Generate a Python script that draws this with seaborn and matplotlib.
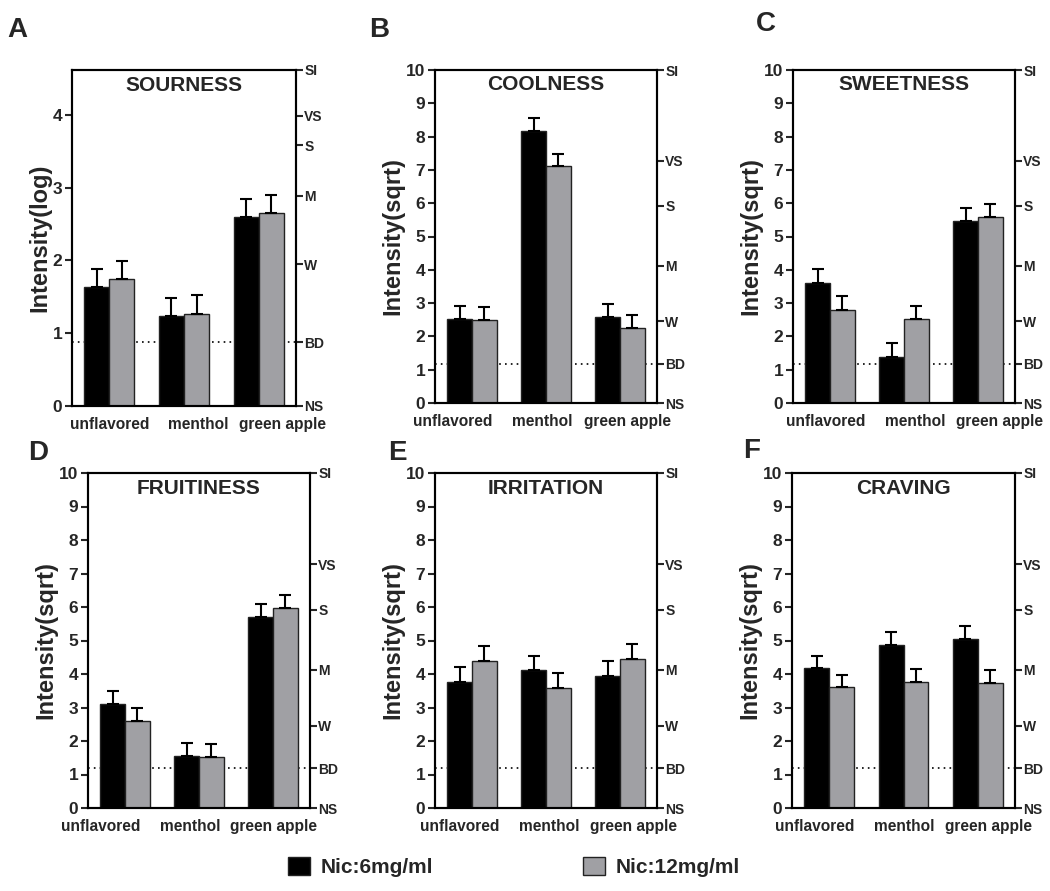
import numpy as np
import pandas as pd
import seaborn as sns
import matplotlib.pyplot as plt
from matplotlib.transforms import ScaledTranslation

# ------------------------------------------------------------
# data: means and upper SEM per flavor
# ------------------------------------------------------------
flavors = ["unflavored", "menthol", "green apple"]
nic_levels = ["Nic:6mg/ml", "Nic:12mg/ml"]

# gLMS anchors used on the right-hand axis
glms_labels = ["NS", "BD", "W", "M", "S", "VS", "SI"]
glms_values = [0, 1.4, 6, 17, 35, 53, 100]

sour_6 = [1.63, 1.24, 2.59]
sour_6_err = [0.25, 0.24, 0.25]
sour_12 = [1.74, 1.27, 2.65]
sour_12_err = [0.25, 0.25, 0.25]

cool_6 = [2.53, 8.18, 2.59]
cool_6_err = [0.38, 0.39, 0.38]
cool_12 = [2.50, 7.12, 2.26]
cool_12_err = [0.38, 0.37, 0.39]

sweet_6 = [3.61, 1.39, 5.48]
sweet_6_err = [0.40, 0.40, 0.39]
sweet_12 = [2.80, 2.52, 5.59]
sweet_12_err = [0.40, 0.40, 0.39]

fruit_6 = [3.09, 1.56, 5.69]
fruit_6_err = [0.39, 0.38, 0.40]
fruit_12 = [2.61, 1.53, 5.96]
fruit_12_err = [0.39, 0.39, 0.40]

irrit_6 = [3.76, 4.11, 3.94]
irrit_6_err = [0.45, 0.44, 0.46]
irrit_12 = [4.39, 3.59, 4.45]
irrit_12_err = [0.45, 0.44, 0.46]

crave_6 = [4.17, 4.88, 5.03]
crave_6_err = [0.38, 0.37, 0.39]
crave_12 = [3.60, 3.76, 3.72]
crave_12_err = [0.38, 0.39, 0.39]

# ------------------------------------------------------------
# style
# ------------------------------------------------------------
sns.set_theme(style="ticks")
plt.rcParams["font.family"] = ["Liberation Sans", "DejaVu Sans"]
plt.rcParams["font.weight"] = "bold"
plt.rcParams["axes.labelweight"] = "bold"

colors = ["#000000", "#a0a0a4"]

W, H = 1050, 891
fig = plt.figure(figsize=(W / 100, H / 100), dpi=100)

# (letter, title, scale, m6, e6, m12, e12, axes box px [l, t, r, b], letter px, x-label shifts px)
panels = [
    ("A", "SOURNESS", "log", sour_6, sour_6_err, sour_12, sour_12_err,
     (72, 70, 296, 406), (7, 37), (0, 14, 24)),
    ("B", "COOLNESS", "sqrt", cool_6, cool_6_err, cool_12, cool_12_err,
     (435, 70, 657, 403), (369, 37), (-19, -4, 7)),
    ("C", "SWEETNESS", "sqrt", sweet_6, sweet_6_err, sweet_12, sweet_12_err,
     (793, 70, 1015, 403), (756, 31), (-4, 11, 21)),
    ("D", "FRUITINESS", "sqrt", fruit_6, fruit_6_err, fruit_12, fruit_12_err,
     (88, 473, 310, 808), (28, 460), (-24, -9, 1)),
    ("E", "IRRITATION", "sqrt", irrit_6, irrit_6_err, irrit_12, irrit_12_err,
     (435, 473, 657, 808), (388, 460), (-12, 3, 13)),
    ("F", "CRAVING", "sqrt", crave_6, crave_6_err, crave_12, crave_12_err,
     (792, 473, 1015, 808), (743, 458), (-14, 1, 11)),
]

for letter, title, scale, m6, e6, m12, e12, box, lpos, shifts in panels:
    l, t, r, b = box
    ax = fig.add_axes([l / W, 1 - b / H, (r - l) / W, (b - t) / H])

    df = pd.DataFrame({
        "flavor": flavors * 2,
        "nic": [nic_levels[0]] * 3 + [nic_levels[1]] * 3,
        "value": m6 + m12,
    })
    sns.barplot(data=df, x="flavor", y="value", hue="nic", hue_order=nic_levels,
                order=flavors, palette=colors, width=0.67, errorbar=None,
                edgecolor="#222222", linewidth=1.0, saturation=1, legend=False, ax=ax)

    # upper-only error bars on top of each bar
    for cont, errs in zip(ax.containers, [e6, e12]):
        xs = [bar.get_x() + bar.get_width() / 2 for bar in cont]
        ys = [bar.get_height() for bar in cont]
        ax.errorbar(xs, ys, yerr=[np.zeros(len(errs)), errs], fmt="none",
                    ecolor="black", elinewidth=1.5, capsize=4.5, capthick=1.5, zorder=3)

    if scale == "log":
        anchors = np.log1p(glms_values)
        ax.set_yticks([0, 1, 2, 3, 4])
        ax.set_ylabel("Intensity(log)", fontsize=17, fontweight="bold", labelpad=1)
    else:
        anchors = np.sqrt(glms_values)
        ax.set_yticks(range(0, 11))
        ax.set_ylabel("Intensity(sqrt)", fontsize=17, fontweight="bold", labelpad=1)
    ax.set_ylim(0, anchors[-1])
    ax.set_xlim(-0.5, 2.5)

    # detection threshold line
    ax.axhline(anchors[1], color="black", lw=1.2, ls=(0, (1, 2.5)), zorder=0.5)

    ax.set_xlabel("")
    ax.tick_params(axis="x", length=0, labelsize=11.2, pad=8)
    ax.tick_params(axis="y", length=5, width=1.5, labelsize=12.5, pad=2)
    for lab in ax.get_xticklabels() + ax.get_yticklabels():
        lab.set_fontweight("bold")
    # nudge the category labels the way the original layout does
    for lab, dx in zip(ax.get_xticklabels(), shifts):
        lab.set_transform(lab.get_transform() + ScaledTranslation(dx / 100, 0, fig.dpi_scale_trans))
    for sp in ax.spines.values():
        sp.set_linewidth(1.5)
        sp.set_color("black")

    ax2 = ax.twinx()
    ax2.set_ylim(ax.get_ylim())
    ax2.set_yticks(anchors)
    ax2.set_yticklabels(glms_labels, fontsize=10, fontweight="bold")
    ax2.tick_params(axis="y", length=5, width=1.5, pad=1)
    for sp in ax2.spines.values():
        sp.set_linewidth(1.5)
        sp.set_color("black")

    ax.text(0.5, 0.955, title, transform=ax.transAxes,
            ha="center", va="center", fontsize=15, fontweight="bold")

    fig.text(lpos[0] / W, 1 - lpos[1] / H, letter, ha="left", va="baseline",
             fontsize=20, fontweight="bold")

# shared legend
handles = list(fig.axes[0].containers)
fig.legend(handles, nic_levels, loc="center", bbox_to_anchor=(514 / W, 1 - 867 / H),
           ncol=2, frameon=False, prop={"weight": "bold", "size": 15},
           handlelength=1.06, handleheight=1.0, handletextpad=0.5, columnspacing=7.2,
           borderpad=0)

fig.savefig("out.png", dpi=100)
